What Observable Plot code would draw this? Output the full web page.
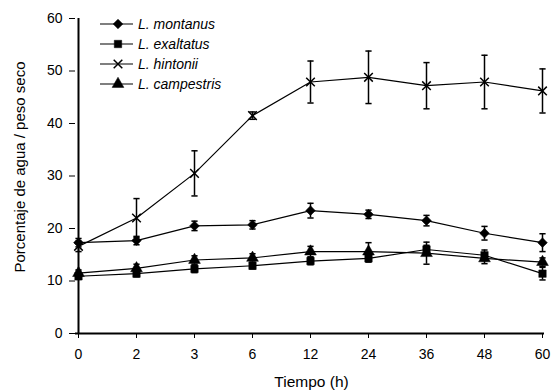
<!DOCTYPE html>
<html>
<head>
<meta charset="utf-8">
<script src="https://cdn.jsdelivr.net/npm/d3@7"></script>
<script src="https://cdn.jsdelivr.net/npm/@observablehq/plot@0.6"></script>
<style>
  html, body { margin: 0; padding: 0; background: #fff; }
  #wrap { position: relative; width: 555px; height: 391px; }
  #legend { position: absolute; left: 0; top: 0; }
</style>
</head>
<body>
<div id="wrap"></div>
<script>
const times = ["0", "2", "3", "6", "12", "24", "36", "48", "60"];
const seriesNames = ["L. montanus", "L. exaltatus", "L. hintonii", "L. campestris"];
const montanus      = [17.3, 17.7, 20.5, 20.7, 23.4, 22.7, 21.5, 19.1, 17.3];
const montanusErr   = [0.8, 0.8, 0.9, 0.8, 1.4, 0.8, 1.0, 1.3, 1.7];
const exaltatus     = [10.9, 11.4, 12.3, 12.9, 13.8, 14.3, 16.0, 14.9, 11.4];
const exaltatusErr  = [0.6, 0.6, 0.7, 0.6, 0.7, 0.7, 0.8, 1.0, 1.2];
const hintonii      = [16.6, 22.0, 30.5, 41.5, 47.9, 48.8, 47.2, 47.9, 46.2];
const hintoniiErr   = [1.0, 3.7, 4.3, 0.7, 4.0, 5.0, 4.4, 5.1, 4.2];
const campestris    = [11.5, 12.4, 14.0, 14.4, 15.6, 15.6, 15.3, 14.3, 13.6];
const campestrisErr = [0.6, 0.8, 0.8, 0.8, 1.0, 1.7, 2.1, 1.0, 0.8];
const yTicks = [0, 10, 20, 30, 40, 50, 60];
const xTitle = "Tiempo (h)";
const yTitle = "Porcentaje de agua / peso seco";

const seriesValues = [montanus, exaltatus, hintonii, campestris];
const seriesErrs = [montanusErr, exaltatusErr, hintoniiErr, campestrisErr];
const symbols = ["diamond2", "square", "times", "triangle"];
const symbolSizes = [60, 55, 50, 60];

const rows = [];
seriesNames.forEach((name, i) => {
  times.forEach((t, j) => {
    rows.push({series: name, idx: i, time: t, value: seriesValues[i][j], err: seriesErrs[i][j]});
  });
});

const capSymbol = {
  draw(context, size) {
    const r = Math.sqrt(size) / 2;
    context.moveTo(-r, 0);
    context.lineTo(r, 0);
  }
};

const font = "'Liberation Sans', Arial, sans-serif";

const marks = [
  Plot.axisY({ticks: yTicks, tickSize: 6, tickPadding: 7, label: null, fontSize: 14}),
  Plot.axisX({tickSize: 5, tickPadding: 11, label: null, fontSize: 14}),
  Plot.text([yTitle], {frameAnchor: "left", text: d => d, rotate: -90, textAnchor: "middle", lineAnchor: "middle",
    dx: -55, dy: -9, fontSize: 15, fill: "black"}),
  Plot.text([xTitle], {frameAnchor: "bottom", text: d => d, textAnchor: "middle", lineAnchor: "middle",
    dx: 1.5, dy: 49, fontSize: 15.5, fill: "black"}),
  Plot.ruleY([0], {stroke: "black", strokeWidth: 2}),
  Plot.ruleX([times[0]], {y1: 0, y2: 60, stroke: "black", strokeWidth: 2})
];

seriesNames.forEach((name, i) => {
  const data = rows.filter(d => d.idx === i);
  marks.push(
    Plot.ruleX(data, {x: "time", y1: d => d.value - d.err, y2: d => d.value + d.err, stroke: "black", strokeWidth: 1.5}),
    Plot.dot(data, {x: "time", y: d => d.value - d.err, symbol: capSymbol, r: 3.5, stroke: "black", strokeWidth: 1.5}),
    Plot.dot(data, {x: "time", y: d => d.value + d.err, symbol: capSymbol, r: 3.5, stroke: "black", strokeWidth: 1.5}),
    Plot.line(data, {x: "time", y: "value", stroke: "black", strokeWidth: 1.2})
  );
});
seriesNames.forEach((name, i) => {
  const data = rows.filter(d => d.idx === i);
  const isStroke = symbols[i] === "times";
  marks.push(
    Plot.dot(data, {x: "time", y: "value", symbol: symbols[i], r: Math.sqrt(symbolSizes[i] / Math.PI),
      fill: isStroke ? "none" : "black", stroke: "black", strokeWidth: isStroke ? 1.5 : 0.5})
  );
});

const chart = Plot.plot({
  width: 555,
  height: 391,
  marginLeft: 75,
  marginRight: 11,
  marginTop: 18,
  marginBottom: 58,
  style: {fontFamily: font, fontSize: "14px", color: "black", background: "white"},
  x: {type: "point", domain: times, padding: 0},
  y: {domain: [0, 60]},
  marks
});

const wrap = document.getElementById("wrap");
wrap.appendChild(chart);

// legend overlay
const legend = d3.create("svg").attr("id", "legend").attr("width", 555).attr("height", 391)
  .style("font-family", font);
const legendSymbols = [d3.symbolDiamond2, d3.symbolSquare, d3.symbolTimes, d3.symbolTriangle];
seriesNames.forEach((name, i) => {
  const y = 24 + i * 20;
  const g = legend.append("g").attr("transform", `translate(0,${y})`);
  g.append("line").attr("x1", 100).attr("x2", 133).attr("y1", 0).attr("y2", 0)
    .attr("stroke", "black").attr("stroke-width", 1.2);
  const isStroke = symbols[i] === "times";
  g.append("path").attr("transform", "translate(118,0)")
    .attr("d", d3.symbol(legendSymbols[i], symbolSizes[i])())
    .attr("fill", isStroke ? "none" : "black").attr("stroke", "black")
    .attr("stroke-width", isStroke ? 1.5 : 0.5);
  g.append("text").attr("x", 138).attr("y", 0).attr("dy", "0.35em")
    .attr("font-style", "italic").attr("font-size", 14).text(name);
});
wrap.appendChild(legend.node());
</script>
</body>
</html>
